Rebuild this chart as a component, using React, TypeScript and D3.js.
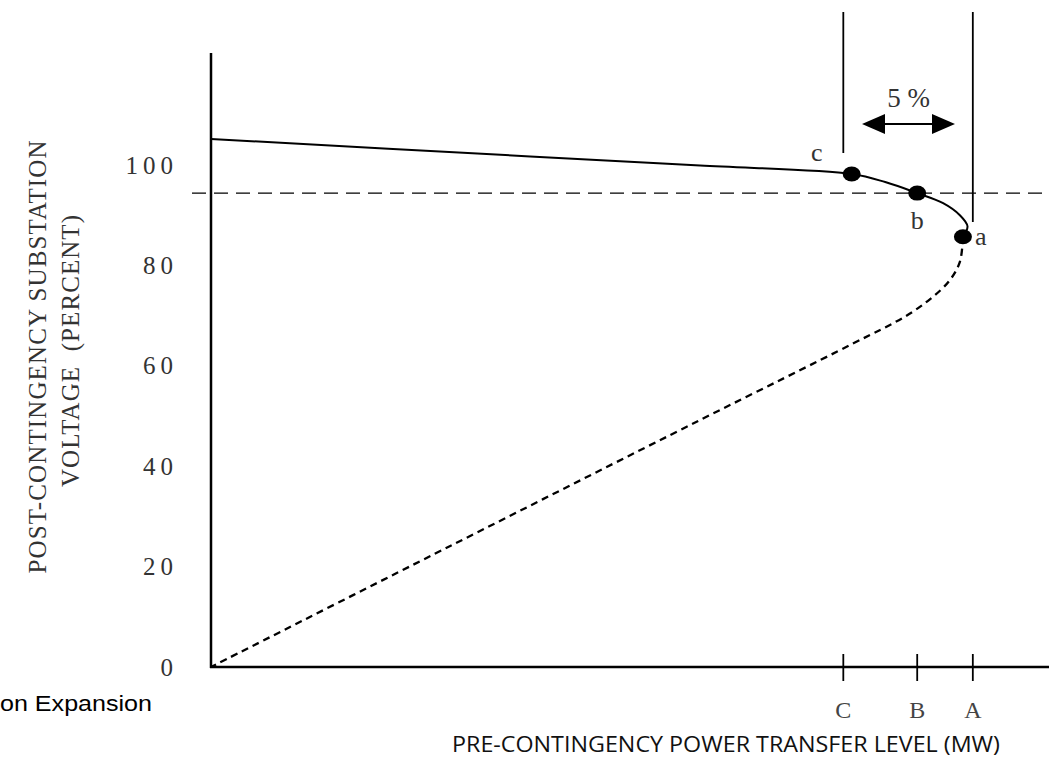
import React from "react";
import * as d3 from "d3";

// voltage levels (percent) on the y axis
const voltageTicks = [0, 20, 40, 60, 80, 100];

// transfer levels marked on the x axis
const transferNames = ["C", "B", "A"];
const transferLevels = [83, 92.7, 100];

// upper (stable) branch of the P-V curve
const upperTransfer = [0, 41.9, 64.2, 84.1, 88.5, 92.7, 96.1, 98.3, 99.3, 98.7];
const upperVoltage = [105.2, 101.7, 99.9, 98.2, 96.6, 94.4, 92.4, 90.0, 87.8, 85.7];

// lower (unstable) branch, dashed
const lowerTransfer = [98.7, 98.3, 96.9, 94.4, 91.2, 84.1, 64.2, 31.4, 0];
const lowerVoltage = [85.7, 80.7, 76.9, 73.3, 69.9, 64.3, 49.2, 24.1, 0];

// operating points
const pointNames = ["c", "b", "a"];
const pointTransfer = [84.1, 92.7, 98.7];
const pointVoltage = [98.2, 94.4, 85.7];

// voltage criterion line
const limitVoltage = 94.4;

const width = 1049;
const height = 757;
const serif = "'Liberation Serif', 'Times New Roman', serif";

const App = () => {
  const x = d3.scaleLinear().domain([0, 110]).range([211, 1049]);
  const y = d3.scaleLinear().domain([0, 100]).range([667, 165]);

  const line = d3
    .line<[number, number]>()
    .x((d) => x(d[0]))
    .y((d) => y(d[1]))
    .curve(d3.curveCatmullRom.alpha(0.5));

  const upper = line(upperTransfer.map((t, i) => [t, upperVoltage[i]]));
  const lower = line(lowerTransfer.map((t, i) => [t, lowerVoltage[i]]));

  const xC = x(transferLevels[0]);
  const xA = x(transferLevels[2]);
  const arrowY = 124;
  const arrowL = 862;
  const arrowR = 955;

  // label offsets for c, b, a
  const labelPos = [
    { dx: -35, dy: -22, anchor: "middle" },
    { dx: 0, dy: 27, anchor: "middle" },
    { dx: 12, dy: 0, anchor: "start" },
  ];

  return (
    <svg
      width={width}
      height={height}
      style={{ position: "absolute", left: 0, top: 0, background: "#fff" }}
    >
      {/* axes */}
      <line x1={211} y1={53} x2={211} y2={668} stroke="#000" strokeWidth={2.5} />
      <line x1={210} y1={667} x2={1049} y2={667} stroke="#000" strokeWidth={2.5} />

      {/* y tick labels */}
      {voltageTicks.map((v) => (
        <text
          key={v}
          x={178}
          y={y(v)}
          textAnchor="end"
          dominantBaseline="central"
          fontFamily={serif}
          fontSize={25}
          letterSpacing={5}
          fill="#333"
        >
          {v}
        </text>
      ))}

      {/* x ticks */}
      {transferLevels.map((t, i) => (
        <g key={transferNames[i]}>
          <line x1={x(t)} y1={654} x2={x(t)} y2={681} stroke="#000" strokeWidth={1.8} />
          <text
            x={x(t)}
            y={718}
            textAnchor="middle"
            fontFamily={serif}
            fontSize={24}
            fill="#444"
          >
            {transferNames[i]}
          </text>
        </g>
      ))}

      {/* criterion line */}
      <line
        x1={192}
        y1={y(limitVoltage)}
        x2={1049}
        y2={y(limitVoltage)}
        stroke="#000"
        strokeWidth={1.3}
        strokeDasharray="14,8"
      />

      {/* vertical limit lines */}
      <line x1={xC} y1={12} x2={xC} y2={153} stroke="#000" strokeWidth={1.8} />
      <line x1={xA} y1={12} x2={xA} y2={222} stroke="#000" strokeWidth={1.8} />

      {/* 5% arrow */}
      <line x1={arrowL + 10} y1={arrowY} x2={arrowR - 10} y2={arrowY} stroke="#000" strokeWidth={2} />
      <polygon
        points={`${arrowL},${arrowY} ${arrowL + 23},${arrowY - 10} ${arrowL + 23},${arrowY + 10}`}
        fill="#000"
      />
      <polygon
        points={`${arrowR},${arrowY} ${arrowR - 23},${arrowY - 10} ${arrowR - 23},${arrowY + 10}`}
        fill="#000"
      />
      <text
        x={(arrowL + arrowR) / 2}
        y={107}
        textAnchor="middle"
        fontFamily={serif}
        fontSize={27}
        fill="#333"
      >
        5 %
      </text>

      {/* curve */}
      <path d={lower || ""} fill="none" stroke="#000" strokeWidth={2.3} strokeDasharray="7,5" />
      <path d={upper || ""} fill="none" stroke="#000" strokeWidth={2} />

      {/* operating points */}
      {pointNames.map((n, i) => {
        const px = x(pointTransfer[i]);
        const py = y(pointVoltage[i]);
        const lp = labelPos[i];
        return (
          <g key={n}>
            <ellipse cx={px} cy={py} rx={9} ry={7.5} fill="#000" />
            <text
              x={px + lp.dx}
              y={py + lp.dy}
              textAnchor={lp.anchor}
              dominantBaseline="central"
              fontFamily={serif}
              fontSize={26}
              fill="#333"
            >
              {n}
            </text>
          </g>
        );
      })}

      {/* y axis title */}
      <text
        transform="translate(46,357) rotate(-90)"
        textAnchor="middle"
        fontFamily={serif}
        fontSize={25}
        fill="#333"
        textLength={433}
        lengthAdjust="spacing"
      >
        POST-CONTINGENCY SUBSTATION
      </text>
      <text
        transform="translate(79,351) rotate(-90)"
        textAnchor="middle"
        fontFamily={serif}
        fontSize={25}
        fill="#333"
        textLength={272}
        lengthAdjust="spacing"
        style={{ whiteSpace: "pre" }}
      >
        {"VOLTAGE  (PERCENT)"}
      </text>

      {/* x axis title */}
      <text
        x={726}
        y={752}
        textAnchor="middle"
        fontFamily="'Open Sans', sans-serif"
        fontSize={21}
        fill="#111"
        textLength={548}
        lengthAdjust="spacingAndGlyphs"
      >
        PRE-CONTINGENCY POWER TRANSFER LEVEL (MW)
      </text>

      {/* clipped caption fragment */}
      <text
        x={0}
        y={711}
        fontFamily="'Liberation Sans', Arial, sans-serif"
        fontSize={22}
        fill="#000"
        textLength={152}
        lengthAdjust="spacingAndGlyphs"
      >
        on Expansion
      </text>
    </svg>
  );
};

export default App;
